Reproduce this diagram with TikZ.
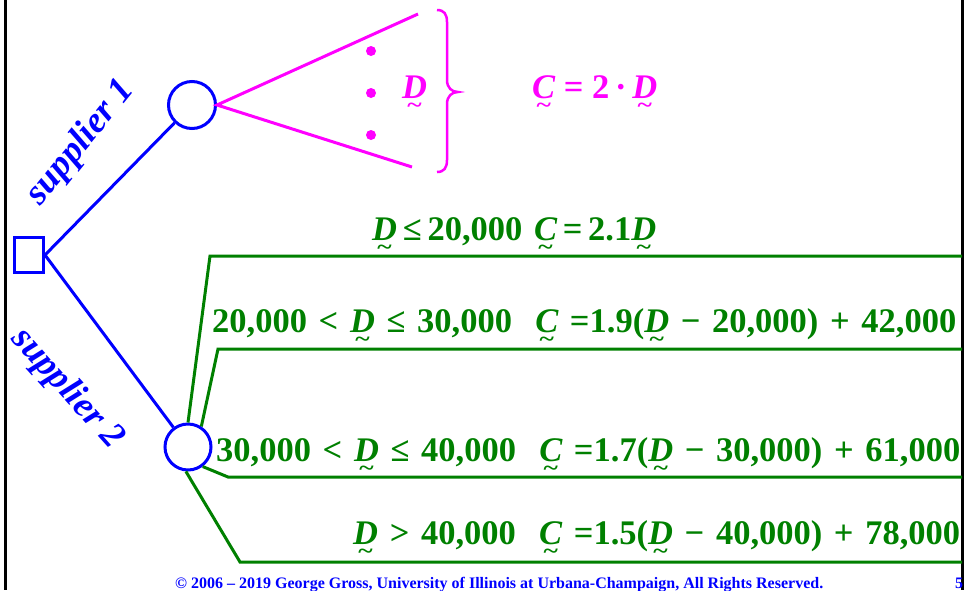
\documentclass[tikz,border=0pt]{standalone}
\usepackage{fontspec}
\setmainfont{Liberation Serif}
\newfontfamily\eqfont{Liberation Serif}[WordSpace=1.35]
\usepackage{graphicx}
\definecolor{gr}{RGB}{0,128,0}
\definecolor{mg}{RGB}{255,0,255}
\newsavebox\rvbox
\newcommand\rv[1]{\sbox\rvbox{\itshape #1}\makebox[0pt][l]{\makebox[\wd\rvbox]{\raisebox{-0.42em}[0pt][0pt]{\scalebox{0.8}[0.65]{\textasciitilde}}}}\usebox\rvbox}
\begin{document}
\begin{tikzpicture}[x=1pt,y=-1pt,
  bl/.style={draw=blue, line width=3pt},
  gl/.style={draw=gr, line width=3pt},
  ml/.style={draw=mg, line width=3pt},
  chance/.style={circle, draw=blue, line width=3pt, inner sep=0pt},
  txt/.style={inner sep=0pt, anchor=base west, font=\fontsize{34.5}{40}\selectfont\bfseries},
  eq/.style={inner sep=0pt, anchor=base west, text=gr, font=\eqfont\fontsize{34.5}{40}\selectfont\bfseries},
  sup/.style={inner sep=0pt, text=blue, font=\fontsize{36.5}{40}\selectfont\bfseries\itshape},
  foot/.style={inner sep=0pt, anchor=base west, text=blue, font=\fontsize{16}{18}\selectfont\bfseries}]
\useasboundingbox (0,0) rectangle (964,590);
% frame
\draw[line width=3pt] (5.5,0) -- (5.5,590);
\draw[line width=3pt] (962.5,0) -- (962.5,590);
% nodes
\node[draw=blue, line width=3pt, minimum width=29pt, minimum height=35pt, inner sep=0pt] (sq) at (29,255) {};
\node[chance, minimum size=47pt] (c1) at (192,105) {};
\node[chance, minimum size=46pt] (c2) at (188,447) {};
\draw[bl] (sq.east) -- (c1);
\draw[bl] (sq.east) -- (c2);
\node[sup, rotate=51] (s1) at (81,143) {supplier 1};
\node[sup, rotate=-48] (s2) at (67,389) {supplier 2};
% magenta branch
\coordinate (m1) at (418,14);
\coordinate (m2) at (412,167);
\draw[ml] (m1) -- (c1.east) -- (m2);
\fill[mg] (371,51) circle (5);
\fill[mg] (371,93) circle (5);
\fill[mg] (371,135) circle (5);
\node[txt, text=mg] (dlab) at (402,98) {\rv{D}};
\draw[ml, line width=2.5pt] (437,10) .. controls (444,10) and (447,14) .. (447,22) -- (447,80) .. controls (447,88) and (452,92) .. (458,92) .. controls (452,92) and (447,96) .. (447,104) -- (447,160) .. controls (447,168) and (444,172) .. (437,172);
\node[txt, text=mg] (clab) at (532,98) {\rv{C} = 2\,·\,\rv{D}};
% green branches
\coordinate (g1a) at (210,256); \coordinate (g1b) at (962,256);
\coordinate (g2a) at (218,349); \coordinate (g2b) at (962,349);
\coordinate (g3a) at (228,477); \coordinate (g3b) at (962,477);
\coordinate (g4a) at (240,562); \coordinate (g4b) at (962,562);
\draw[gl] (c2.north) -- (g1a) -- (g1b);
\draw[gl] (c2.57) -- (g2a) -- (g2b);
\draw[gl] (c2.-53) -- (g3a) -- (g3b);
\draw[gl] (c2.-95) -- (g4a) -- (g4b);
\node[eq] (t1) at (372,240) {\rv{D}\,≤\,20,000 \rv{C}\,=\,2.1\rv{D}};
\node[eq] (t2) at (212,332) {20,000 < \rv{D} ≤ 30,000~~\rv{C} =1.9(\rv{D} − 20,000) + 42,000};
\node[eq] (t3) at (216,461) {30,000 < \rv{D} ≤ 40,000~~\rv{C} =1.7(\rv{D} − 30,000) + 61,000};
\node[eq] (t4) at (353,544) {\rv{D} > 40,000~~\rv{C} =1.5(\rv{D} − 40,000) + 78,000};
% footer
\node[foot] (ft) at (175,588) {© 2006 – 2019 George Gross, University of Illinois at Urbana-Champaign, All Rights Reserved.};
\node[foot] (pg) at (955,588) {5};
\end{tikzpicture}
\end{document}
